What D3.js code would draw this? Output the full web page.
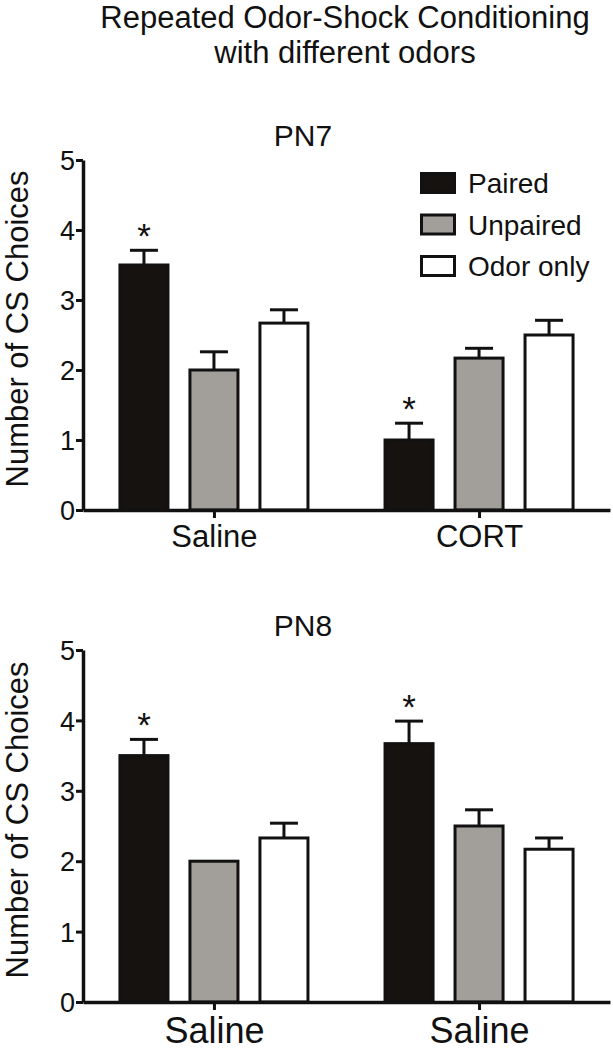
<!DOCTYPE html>
<html>
<head>
<meta charset="utf-8">
<script src="https://cdn.jsdelivr.net/npm/d3@7"></script>
<style>
  html, body { margin: 0; padding: 0; background: #fff; }
  svg text { font-family: "Liberation Sans", Arial, sans-serif; fill: #111; }
</style>
</head>
<body>
<div id="chart"></div>
<script>
// values
const series = ["Paired", "Unpaired", "Odor only"];
const seriesFill = ["#15120f", "#a29e9a", "#ffffff"];

const pn7Groups = ["Saline", "CORT"];
const pn7Means = [[3.5, 2.0, 2.67], [1.0, 2.17, 2.5]];
const pn7Sem = [[0.21, 0.26, 0.19], [0.24, 0.14, 0.21]];
const pn7Star = [[true, false, false], [true, false, false]];

const pn8Groups = ["Saline", "Saline"];
const pn8Means = [[3.5, 2.0, 2.33], [3.67, 2.5, 2.17]];
const pn8Sem = [[0.23, 0, 0.21], [0.32, 0.23, 0.16]];
const pn8Star = [[true, false, false], [true, false, false]];

const yTicks = [0, 1, 2, 3, 4, 5];

const width = 613, height = 1050;
const svg = d3.select("#chart").append("svg")
    .attr("width", width)
    .attr("height", height)
    .attr("viewBox", [0, 0, width, height]);

// title
svg.append("text")
    .attr("x", 345).attr("y", 28)
    .attr("text-anchor", "middle")
    .style("font-size", "31px")
    .text("Repeated Odor-Shock Conditioning");
svg.append("text")
    .attr("x", 345).attr("y", 63)
    .attr("text-anchor", "middle")
    .style("font-size", "31px")
    .text("with different odors");

const panel = (conf) => {
    const g = svg.append("g");
    const x = d3.scalePoint()
        .domain(d3.range(conf.groups.length))
        .range([83, 610])
        .padding(0.494);
    const xs = d3.scaleBand()
        .domain(series)
        .range([-105, 105])
        .paddingInner(0.314)
        .paddingOuter(0.157);
    const y = d3.scaleLinear()
        .domain([0, 5])
        .range([conf.bottom, conf.top]);

    g.append("text")
        .attr("x", 303).attr("y", conf.top - 14)
        .attr("text-anchor", "middle")
        .style("font-size", "30px")
        .text(conf.name);

    const rows = conf.means.flatMap((ms, gi) => ms.map((m, si) => ({
        gi, si, mean: m, sem: conf.sem[gi][si], star: conf.star[gi][si]
    })));
    const cx = d => x(d.gi) + xs(series[d.si]) + xs.bandwidth() / 2;

    // error bars (upper half only)
    const eb = g.append("g")
        .attr("stroke", "#111")
        .attr("stroke-width", 3)
        .selectAll("g")
        .data(rows.filter(d => d.sem > 0))
        .join("g");
    eb.append("line")
        .attr("x1", cx).attr("x2", cx)
        .attr("y1", d => y(d.mean)).attr("y2", d => y(d.mean + d.sem));
    eb.append("line")
        .attr("x1", d => cx(d) - 14).attr("x2", d => cx(d) + 14)
        .attr("y1", d => y(d.mean + d.sem)).attr("y2", d => y(d.mean + d.sem));

    g.append("g")
        .selectAll("rect")
        .data(rows)
        .join("rect")
        .attr("x", d => x(d.gi) + xs(series[d.si]))
        .attr("y", d => y(d.mean))
        .attr("width", xs.bandwidth())
        .attr("height", d => y(0) - y(d.mean))
        .attr("fill", d => seriesFill[d.si])
        .attr("stroke", "#111")
        .attr("stroke-width", 3);

    g.append("g")
        .selectAll("text")
        .data(rows.filter(d => d.star))
        .join("text")
        .attr("x", cx)
        .attr("y", d => y(d.mean + d.sem) - 2)
        .attr("text-anchor", "middle")
        .style("font-size", "35px")
        .text("*");

    const yAxis = g.append("g")
        .attr("transform", "translate(83,0)")
        .call(d3.axisLeft(y).tickValues(yTicks).tickFormat(d3.format("d"))
            .tickSize(7).tickSizeOuter(0).tickPadding(1));
    const xAxis = g.append("g")
        .attr("transform", `translate(0,${conf.bottom})`)
        .call(d3.axisBottom(x).tickSize(8).tickSizeOuter(0).tickPadding(6)
            .tickFormat(i => conf.groups[i]));
    [yAxis, xAxis].forEach(a => {
        a.select(".domain").attr("stroke", "#111").attr("stroke-width", 3.5);
        a.selectAll(".tick line").attr("stroke", "#111").attr("stroke-width", 3);
        a.selectAll(".tick text").attr("fill", "#111").style("font-family", "Liberation Sans, Arial, sans-serif");
    });
    yAxis.selectAll(".tick text").style("font-size", "27px").attr("dy", "0.36em");
    xAxis.selectAll(".tick text").style("font-size", conf.xFont + "px").attr("dy", "0.74em");

    g.append("text")
        .attr("transform", `translate(28,${(conf.top + conf.bottom) / 2 - 6}) rotate(-90)`)
        .attr("text-anchor", "middle")
        .style("font-size", "31px")
        .text("Number of CS Choices");

    if (conf.legend) {
        const lg = g.append("g")
            .selectAll("g")
            .data(series)
            .join("g")
            .attr("transform", (d, i) => `translate(420,${172 + i * 41.5})`);
        lg.append("rect")
            .attr("x", 1.5).attr("y", 1.5)
            .attr("width", 33).attr("height", 19)
            .attr("fill", (d, i) => seriesFill[i])
            .attr("stroke", "#111")
            .attr("stroke-width", 3);
        lg.append("text")
            .attr("x", 48).attr("y", 21)
            .style("font-size", "28px")
            .text(d => d);
    }
};

panel({name: "PN7", groups: pn7Groups, means: pn7Means, sem: pn7Sem, star: pn7Star,
       top: 160, bottom: 510, xFont: 31, legend: true});
panel({name: "PN8", groups: pn8Groups, means: pn8Means, sem: pn8Sem, star: pn8Star,
       top: 650, bottom: 1002, xFont: 36, legend: false});
</script>
</body>
</html>
